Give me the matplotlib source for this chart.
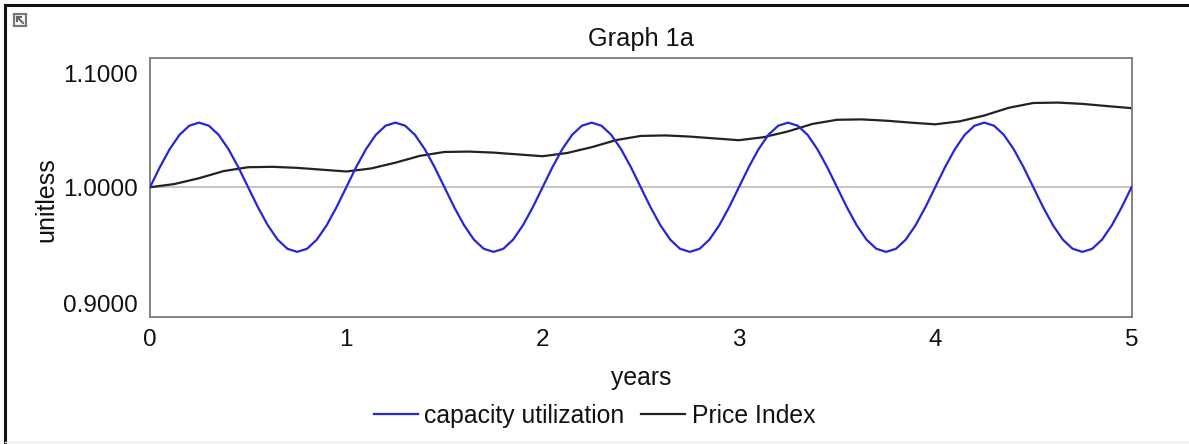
import matplotlib
matplotlib.use("Agg")
import matplotlib.pyplot as plt
from matplotlib.lines import Line2D
from matplotlib.patches import Rectangle
from matplotlib.transforms import ScaledTranslation

plt.rcParams['font.family'] = ['Liberation Sans', 'DejaVu Sans']

# ---- data ----
years_cu = [i * 0.05 for i in range(101)]
capacity_utilization = [
    1.0000, 1.0155, 1.0294, 1.0405, 1.0476, 1.0500, 1.0476, 1.0405, 1.0294, 1.0155,
    1.0000, 0.9845, 0.9706, 0.9595, 0.9524, 0.9500, 0.9524, 0.9595, 0.9706, 0.9845,
    1.0000, 1.0155, 1.0294, 1.0405, 1.0476, 1.0500, 1.0476, 1.0405, 1.0294, 1.0155,
    1.0000, 0.9845, 0.9706, 0.9595, 0.9524, 0.9500, 0.9524, 0.9595, 0.9706, 0.9845,
    1.0000, 1.0155, 1.0294, 1.0405, 1.0476, 1.0500, 1.0476, 1.0405, 1.0294, 1.0155,
    1.0000, 0.9845, 0.9706, 0.9595, 0.9524, 0.9500, 0.9524, 0.9595, 0.9706, 0.9845,
    1.0000, 1.0155, 1.0294, 1.0405, 1.0476, 1.0500, 1.0476, 1.0405, 1.0294, 1.0155,
    1.0000, 0.9845, 0.9706, 0.9595, 0.9524, 0.9500, 0.9524, 0.9595, 0.9706, 0.9845,
    1.0000, 1.0155, 1.0294, 1.0405, 1.0476, 1.0500, 1.0476, 1.0405, 1.0294, 1.0155,
    1.0000, 0.9845, 0.9706, 0.9595, 0.9524, 0.9500, 0.9524, 0.9595, 0.9706, 0.9845,
    1.0000,
]

years_pi = [i * 0.125 for i in range(41)]
price_index = [
    1.0000,
    1.0025, 1.0070, 1.0125, 1.0155, 1.0158, 1.0150, 1.0136, 1.0122,
    1.0145, 1.0190, 1.0243, 1.0273, 1.0276, 1.0268, 1.0254, 1.0240,
    1.0265, 1.0310, 1.0365, 1.0397, 1.0401, 1.0392, 1.0378, 1.0364,
    1.0387, 1.0432, 1.0490, 1.0522, 1.0525, 1.0515, 1.0500, 1.0487,
    1.0510, 1.0555, 1.0615, 1.0652, 1.0655, 1.0645, 1.0628, 1.0612,
]

x_ticks = [0, 1, 2, 3, 4, 5]
y_ticks = [0.9, 1.0, 1.1]
y_tick_labels = ["0.9000", "1.0000", "1.1000"]

W, H = 1189, 444
fig = plt.figure(figsize=(W / 100, H / 100), dpi=100)
ax = fig.add_axes([150 / W, 1 - 316.5 / H, (1131.5 - 150) / W, (316.5 - 58) / H])

ax.axhline(1.0, color="#b4b4b4", lw=1.1, zorder=1)
ax.plot(years_cu, capacity_utilization, color="#2626d8", lw=1.6, zorder=3)
ax.plot(years_pi, price_index, color="#222222", lw=1.6, zorder=2)

ax.set_xlim(0, 5)
ax.set_ylim(0.9, 1.1)
ax.set_xticks(x_ticks)
ax.set_xticklabels([str(t) for t in x_ticks])
ax.set_yticks(y_ticks)
ax.set_yticklabels(y_tick_labels)
ax.tick_params(axis="both", length=0, labelsize=17.5, colors="#111111")
ax.tick_params(axis="y", pad=9)
ax.tick_params(axis="x", pad=9)
for s in ax.spines.values():
    s.set_color("#7a7a7a")
    s.set_linewidth(1.3)

# the extreme y tick labels sit inside the axis range in the reference
ylabels = ax.get_yticklabels()
ylabels[0].set_transform(ylabels[0].get_transform() + ScaledTranslation(0, 13 / 100, fig.dpi_scale_trans))
ylabels[-1].set_transform(ylabels[-1].get_transform() + ScaledTranslation(0, -15.5 / 100, fig.dpi_scale_trans))

ax.set_title("Graph 1a", fontsize=18.3, pad=8.6, color="#111111")
ax.set_xlabel("years", fontsize=17.8, labelpad=11, color="#111111")
fig.text(46 / W, 1 - 200 / H, "unitless", rotation=90, ha="center", va="center",
         fontsize=18, color="#111111")

handles = [Line2D([], [], color="#2626d8", lw=1.6), Line2D([], [], color="#222222", lw=1.6)]
fig.legend(handles, ["capacity utilization", "Price Index"], loc="center",
           bbox_to_anchor=(594.5 / W, 1 - 416 / H), ncol=2, frameon=False,
           fontsize=17.8, handlelength=1.78, handletextpad=0.26, columnspacing=0.69,
           borderpad=0, labelcolor="#111111")

# outer frame lines
fig.add_artist(Line2D([5 / W, 1], [1 - 5 / H, 1 - 5 / H], transform=fig.transFigure,
                      color="#111111", lw=2.2))
fig.add_artist(Line2D([5 / W, 5 / W], [0, 1 - 5 / H], transform=fig.transFigure,
                      color="#111111", lw=2.2))
fig.add_artist(Line2D([5 / W, 1], [1 - 442 / H, 1 - 442 / H], transform=fig.transFigure,
                      color="#e6e6e6", lw=1.0))
# small icon at top left
fig.add_artist(Rectangle((14 / W, 1 - 26 / H), 12 / W, 12 / H, transform=fig.transFigure,
                         facecolor="white", edgecolor="#777777", lw=1.6))
fig.add_artist(Line2D([17 / W, 23 / W], [1 - 17 / H, 1 - 23 / H], transform=fig.transFigure,
                      color="#666666", lw=1.5))
fig.add_artist(Line2D([17 / W, 17 / W, 21 / W], [1 - 21 / H, 1 - 17 / H, 1 - 17 / H],
                      transform=fig.transFigure, color="#666666", lw=1.5))

fig.savefig("out.png", dpi=100)
